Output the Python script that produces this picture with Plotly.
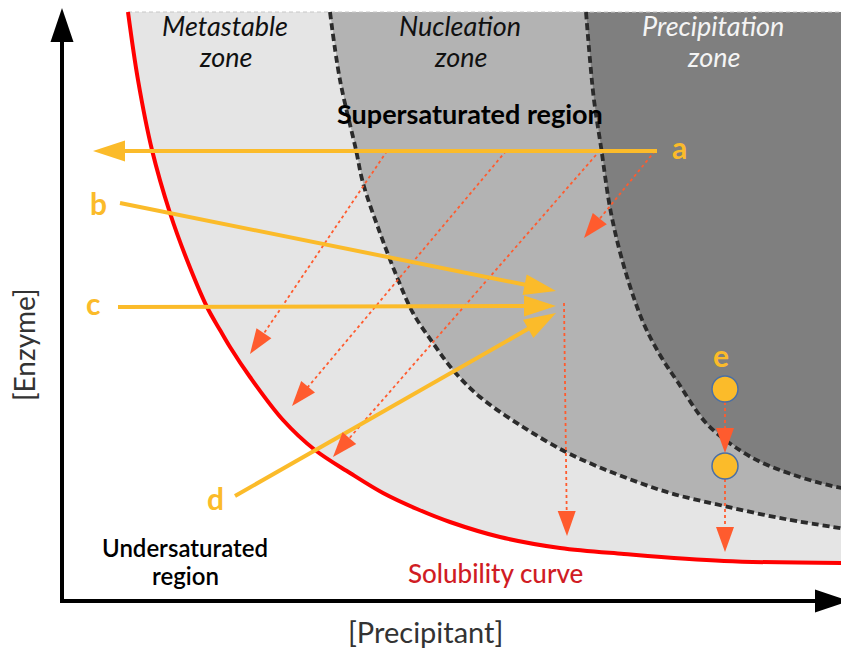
import math

import plotly.graph_objects as go

W, H = 849, 649
PAD = 8  # page body margin of the html the figure sits in
FONT = "Lato"

YELLOW = "#fbbb2a"
ORANGE = "#ff5b2e"
RED = "#ff0000"

# boundary curves, drawn in a pixel-like frame (x to the right, y downwards)
solubility_x = [128, 138, 152, 170, 187, 207, 220, 230, 250, 283, 315, 350, 383, 417, 450, 500, 560, 624, 724, 846]
solubility_y = [12, 80, 150, 213, 260, 307, 330, 347, 377, 420, 450, 473, 493, 509, 522, 537, 548, 554, 561, 563]

nucleation_x = [330, 340, 356, 363, 380, 397, 413, 433, 453, 480, 523, 564, 594, 624, 670, 724, 785, 846]
nucleation_y = [12, 80, 150, 183, 233, 277, 313, 343, 370, 397, 427, 451, 465, 477, 493, 506, 519, 529]

precipitation_x = [586, 590, 594, 601, 611, 625, 643, 660, 677, 707, 741, 765, 791, 820, 846]
precipitation_y = [12, 60, 100, 147, 213, 270, 322, 355, 381, 424, 451, 464, 474, 483, 489]

TOP, RIGHT = 12, 847

# experiment paths a-d (tail -> tip)
path_tail = [(657, 151), (120, 203), (118, 307), (235, 496)]
path_tip = [(93, 151), (556, 291), (556, 306), (556, 313)]

# dotted "what happens next" arrows
drift_tail = [(387, 151), (506, 151), (596, 155), (655, 151), (564, 303), (725, 402), (725, 479)]
drift_tip = [(250, 354), (292, 406), (333, 457), (584, 238), (567, 536), (725, 453), (725, 552)]

# case e: drop before and after
e_x = [725, 725]
e_y = [389, 466]

labels = {"a": (679, 147), "b": (98, 203), "c": (93, 303), "d": (215, 498), "e": (721, 355)}


def head(tail, tip, length, width):
    dx, dy = tip[0] - tail[0], tip[1] - tail[1]
    n = math.hypot(dx, dy)
    ux, uy = dx / n, dy / n
    bx, by = tip[0] - ux * length, tip[1] - uy * length
    px, py = -uy * width / 2, ux * width / 2
    pts = [tip, (bx + px, by + py), (bx - px, by - py)]
    return "M" + " L".join(f"{x:.1f},{y:.1f}" for x, y in pts) + " Z", (bx + ux * 2, by + uy * 2)


fig = go.Figure()


def region(xs, ys, right_y, color):
    fig.add_trace(go.Scatter(
        x=xs + [RIGHT, RIGHT], y=ys + [right_y, TOP], fill="toself", fillcolor=color,
        mode="lines", line=dict(width=0), hoverinfo="skip"))


region(solubility_x, solubility_y, 563, "#e5e5e5")
region(nucleation_x, nucleation_y, 529, "#b3b3b3")
region(precipitation_x, precipitation_y, 489, "#7f7f7f")

# faint frame of the supersaturated panel
fig.add_trace(go.Scatter(x=[solubility_x[0], RIGHT, RIGHT], y=[TOP, TOP, 563], mode="lines",
                         line=dict(color="#c8c8c8", width=1.2, dash="4px,3px"), hoverinfo="skip"))

for xs, ys in [(nucleation_x, nucleation_y), (precipitation_x, precipitation_y)]:
    fig.add_trace(go.Scatter(x=xs, y=ys, mode="lines", line_shape="spline",
                             line=dict(color="#2b2b2b", width=3.8, dash="7px,4px"), hoverinfo="skip"))

fig.add_trace(go.Scatter(x=solubility_x, y=solubility_y, mode="lines", line_shape="spline",
                         line=dict(color=RED, width=4), hoverinfo="skip"))

shapes = []

# dotted arrows
for tail, tip in zip(drift_tail, drift_tip):
    p, base = head(tail, tip, 25, 18)
    fig.add_trace(go.Scatter(x=[tail[0], base[0]], y=[tail[1], base[1]], mode="lines",
                             line=dict(color=ORANGE, width=1.8, dash="3px,3px"), hoverinfo="skip"))
    shapes.append(dict(type="path", path=p, fillcolor=ORANGE, line=dict(width=0), layer="above"))

# solid paths
for tail, tip in zip(path_tail, path_tip):
    p, base = head(tail, tip, 32, 21)
    fig.add_trace(go.Scatter(x=[tail[0], base[0]], y=[tail[1], base[1]], mode="lines",
                             line=dict(color=YELLOW, width=4), hoverinfo="skip"))
    shapes.append(dict(type="path", path=p, fillcolor=YELLOW, line=dict(width=0), layer="above"))

# axes
for tail, tip in [((62, 603), (62, 8)), ((62, 601), (849, 601))]:
    p, base = head(tail, tip, 34, 23)
    shapes.append(dict(type="line", x0=tail[0], y0=tail[1], x1=base[0], y1=base[1],
                       line=dict(color="black", width=4), layer="above"))
    shapes.append(dict(type="path", path=p, fillcolor="black", line=dict(width=0), layer="above"))

fig.add_trace(go.Scatter(x=e_x, y=e_y, mode="markers",
                         marker=dict(size=26, color=YELLOW, line=dict(color="#4a6fa5", width=1.5)),
                         hoverinfo="skip"))

ann = []


def text(x, y, s, size, color="black", **kw):
    ann.append(dict(x=x, y=y, text=s, showarrow=False, xanchor="center", yanchor="middle",
                    font=dict(family=FONT, size=size, color=color, **kw.pop("font", {})), **kw))


for cx, words, col in [(225, ("Metastable", "zone"), "#111111"),
                       (460, ("Nucleation", "zone"), "#111111"),
                       (713, ("Precipitation", "zone"), "#f4f4f4")]:
    text(cx, 25, words[0], 27, color=col, font=dict(style="italic"))
    text(cx, 56, words[1], 27, color=col, font=dict(style="italic"))

text(470, 113, "Supersaturated region", 27, font=dict(weight="bold"))
text(185, 547, "Undersaturated", 24, font=dict(weight=600))
text(185, 575, "region", 24, font=dict(weight=600))
text(495, 573, "Solubility curve", 26, color="#d01c24", font=dict(weight=500))
text(24, 345, "[Enzyme]", 28, color="#333333", textangle=-90)
text(425, 631, "[Precipitant]", 29, color="#333333")
for k, (x, y) in labels.items():
    text(x, y, k, 30, color=YELLOW, font=dict(weight="bold"))

fig.update_layout(
    width=W - PAD, height=H - PAD, margin=dict(l=0, r=0, t=0, b=0),
    paper_bgcolor="white", plot_bgcolor="white", showlegend=False,
    xaxis=dict(range=[PAD, W], visible=False, fixedrange=True),
    yaxis=dict(range=[H, PAD], visible=False, fixedrange=True),
    shapes=shapes, annotations=ann,
)

fig.write_html("out.html")
